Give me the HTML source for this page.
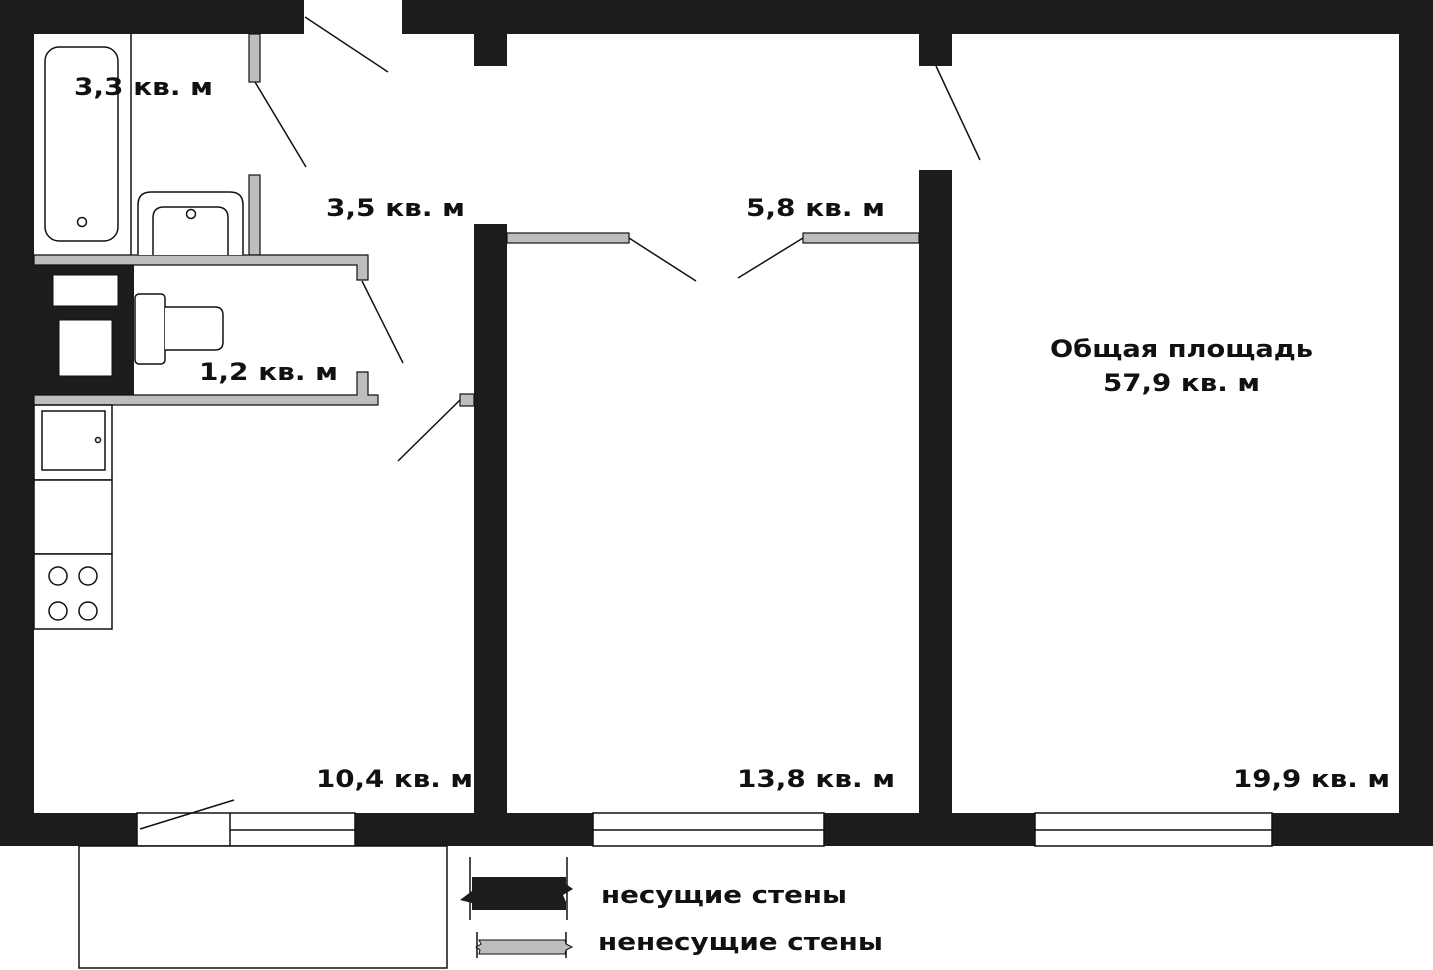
<!DOCTYPE html>
<html><head><meta charset="utf-8"><style>
html,body{margin:0;padding:0;background:#fff;}
svg{display:block;}
text{font-family:"DejaVu Sans","Liberation Sans",sans-serif;font-weight:bold;fill:#111;}
</style></head><body>
<svg width="1433" height="970" viewBox="0 0 1433 970" xmlns="http://www.w3.org/2000/svg">
<rect width="1433" height="970" fill="#fff"/>
<g fill="#1c1c1c">
<rect x="0" y="0" width="304" height="34"/>
<rect x="402" y="0" width="1031" height="34"/>
<rect x="0" y="0" width="34" height="846"/>
<rect x="1399" y="0" width="34" height="846"/>
<rect x="0" y="813" width="1433" height="33"/>
<rect x="474" y="34" width="33" height="32"/>
<rect x="919" y="34" width="33" height="32"/>
<rect x="474" y="224" width="33" height="622"/>
<rect x="919" y="170" width="33" height="676"/>
<rect x="34" y="265" width="100" height="130"/>
</g>
<g fill="#fff" stroke="#111" stroke-width="1.5">
<rect x="137" y="813" width="218" height="33"/>
<rect x="593" y="813" width="231" height="33"/>
<rect x="1035" y="813" width="237" height="33"/>
</g>
<g stroke="#111" stroke-width="1.5">
<line x1="230" y1="813" x2="230" y2="846"/>
<line x1="230" y1="830" x2="355" y2="830"/>
<line x1="593" y1="830" x2="824" y2="830"/>
<line x1="1035" y1="830" x2="1272" y2="830"/>
</g>
<g fill="#bdbdbd" stroke="#111" stroke-width="1.2">
<rect x="507" y="233" width="122" height="10"/>
<rect x="803" y="233" width="116" height="10"/>
<rect x="249" y="34" width="11" height="48"/>
<rect x="249" y="175" width="11" height="80"/>
<path d="M34 255 H368 V280 H357 V265 H34 Z"/>
<path d="M34 405 H378 V395 H368 V372 H357 V395 H34 Z"/>
<rect x="460" y="394" width="14" height="12"/>
</g>
<g fill="#fff" stroke="#111" stroke-width="1">
<rect x="53" y="275" width="65" height="31"/>
<rect x="59" y="320" width="53" height="56"/>
</g>
<g fill="#fff" stroke="#111" stroke-width="1.5">
<rect x="45" y="47" width="73" height="194" rx="14"/>
<circle cx="82" cy="222" r="4.5"/>
<line x1="131" y1="34" x2="131" y2="255"/>
<path d="M138 255 V205 Q138 192 151 192 H230 Q243 192 243 205 V255"/>
<path d="M153 255 V218 Q153 207 164 207 H217 Q228 207 228 218 V255"/>
<circle cx="191" cy="214" r="4.5"/>
<rect x="135" y="294" width="30" height="70" rx="4"/>
<path d="M165 307 H215 Q223 307 223 315 V342 Q223 350 215 350 H165"/>
<rect x="34" y="405" width="78" height="75"/>
<rect x="42" y="411" width="63" height="59"/>
<circle cx="98" cy="440" r="2.5"/>
<rect x="34" y="480" width="78" height="74"/>
<rect x="34" y="554" width="78" height="75"/>
<circle cx="58" cy="576" r="9"/><circle cx="88" cy="576" r="9"/>
<circle cx="58" cy="611" r="9"/><circle cx="88" cy="611" r="9"/>
<rect x="79" y="846" width="368" height="122"/>
</g>
<g stroke="#111" stroke-width="1.5">
<line x1="305" y1="17" x2="388" y2="72"/>
<line x1="255" y1="82" x2="306" y2="167"/>
<line x1="936" y1="66" x2="980" y2="160"/>
<line x1="629" y1="238" x2="696" y2="281"/>
<line x1="803" y1="238" x2="738" y2="278"/>
<line x1="362" y1="281" x2="403" y2="363"/>
<line x1="460" y1="400" x2="398" y2="461"/>
<line x1="140" y1="829" x2="234" y2="800"/>
</g>
<g stroke="#111" stroke-width="1.5">
<line x1="470" y1="857" x2="470" y2="920"/>
<line x1="567" y1="857" x2="567" y2="920"/>
<line x1="477" y1="932" x2="477" y2="958"/>
<line x1="566" y1="932" x2="566" y2="958"/>
</g>
<path d="M472 877 H566 L566 884 L573 889 L563 895 L566 902 L566 910 H472 L472 903 L460 900 L472 891 Z" fill="#1c1c1c"/>
<path d="M479 940 H565 L566 944 L572 947 L566 950 L565 954 H479 L480 950 L476 947 L481 944 Z" fill="#bdbdbd" stroke="#111" stroke-width="1"/>
<g font-size="24" lengthAdjust="spacingAndGlyphs">
<text x="74" y="95" textLength="139" lengthAdjust="spacingAndGlyphs">3,3 кв. м</text>
<text x="326" y="216" textLength="139" lengthAdjust="spacingAndGlyphs">3,5 кв. м</text>
<text x="746" y="216" textLength="139" lengthAdjust="spacingAndGlyphs">5,8 кв. м</text>
<text x="199" y="380" textLength="139" lengthAdjust="spacingAndGlyphs">1,2 кв. м</text>
<text x="316" y="787" textLength="157" lengthAdjust="spacingAndGlyphs">10,4 кв. м</text>
<text x="737" y="787" textLength="158" lengthAdjust="spacingAndGlyphs">13,8 кв. м</text>
<text x="1233" y="787" textLength="157" lengthAdjust="spacingAndGlyphs">19,9 кв. м</text>
<text x="1050" y="357" textLength="263" lengthAdjust="spacingAndGlyphs">Общая площадь</text>
<text x="1103" y="391" textLength="157" lengthAdjust="spacingAndGlyphs">57,9 кв. м</text>
<text x="601" y="903" textLength="246" lengthAdjust="spacingAndGlyphs">несущие стены</text>
<text x="598" y="950" textLength="285" lengthAdjust="spacingAndGlyphs">ненесущие стены</text>
</g>
</svg>
</body></html>
